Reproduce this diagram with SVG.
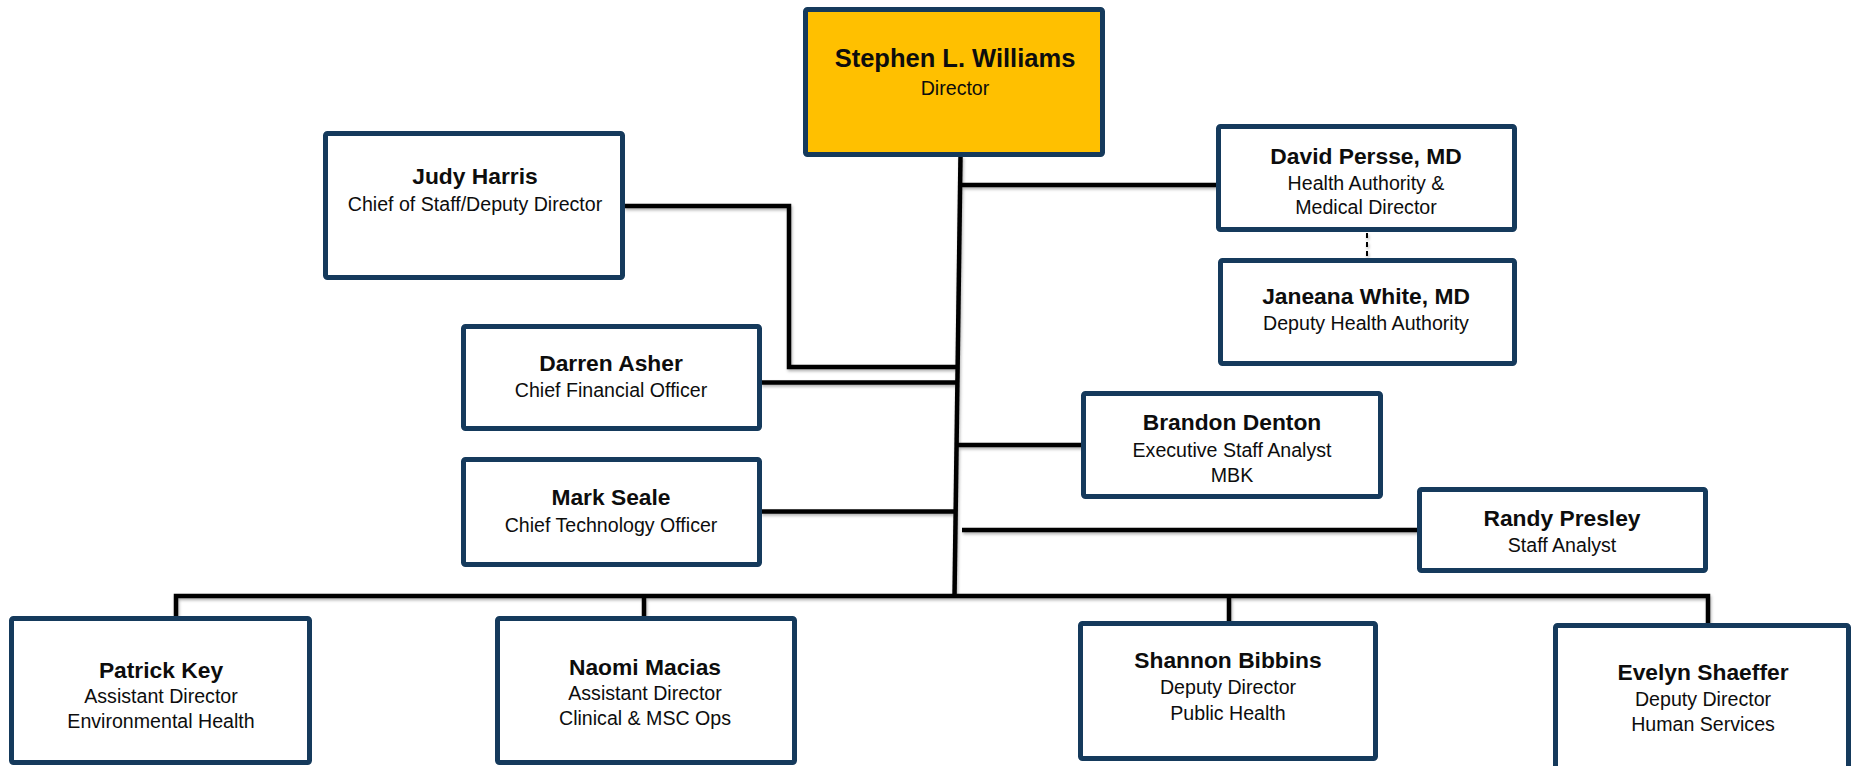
<svg xmlns="http://www.w3.org/2000/svg" width="1851" height="766" viewBox="0 0 1851 766">
<defs>
<style>
.box{fill:#ffffff;stroke:#153a5c;stroke-width:5;}
.top{fill:#ffc000;stroke:#153a5c;stroke-width:5;}
.nm{font-family:"Liberation Sans",Arial,sans-serif;font-weight:bold;font-size:22.8px;fill:#0d0d0d;text-anchor:middle;}
.tt{font-family:"Liberation Sans",Arial,sans-serif;font-size:19.6px;fill:#0d0d0d;text-anchor:middle;}
.ln{fill:none;stroke:#000;stroke-width:4.5;stroke-linejoin:miter;stroke-linecap:butt;}
.dash{fill:none;stroke:#000;stroke-width:2;stroke-dasharray:5,4;}
</style>
<filter id="sh" x="-5%" y="-5%" width="110%" height="130%">
<feDropShadow dx="1" dy="2" stdDeviation="1.5" flood-color="#000" flood-opacity="0.3"/>
</filter>
</defs>
<rect width="1851" height="766" fill="#ffffff"/>
<g id="connectors" filter="url(#sh)">
<path class="ln" d="M960.5,156 L954.5,597"/>
<path class="ln" d="M960,185 H1217"/>
<path class="ln" d="M624,206 H789 V367 H957"/>
<path class="ln" d="M761,382.5 H957"/>
<path class="ln" d="M957,445 H1082"/>
<path class="ln" d="M761,511.5 H955"/>
<path class="ln" d="M962,530 H1418"/>
<path class="ln" d="M176,618 V596 H1708 V624"/>
<path class="ln" d="M644,596 V617"/>
<path class="ln" d="M1229,596 V622"/>
<path class="dash" d="M1367,233 V258"/>
</g>
<g id="stephen">
<rect class="top" x="805.5" y="9.5" width="297" height="145" rx="2"/>
<text class="nm" x="955" y="67" style="font-size:25.5px">Stephen L. Williams</text>
<text class="tt" x="955" y="95">Director</text>
</g>
<g id="judy">
<rect class="box" x="325.5" y="133.5" width="297" height="144" rx="2"/>
<text class="nm" x="475" y="184">Judy Harris</text>
<text class="tt" x="475" y="211">Chief of Staff/Deputy Director</text>
</g>
<g id="david">
<rect class="box" x="1218.5" y="126.5" width="296" height="103" rx="2"/>
<text class="nm" x="1366" y="164">David Persse, MD</text>
<text class="tt" x="1366" y="190">Health Authority &amp;</text>
<text class="tt" x="1366" y="214">Medical Director</text>
</g>
<g id="janeana">
<rect class="box" x="1220.5" y="260.5" width="294" height="103" rx="2"/>
<text class="nm" x="1366" y="304">Janeana White, MD</text>
<text class="tt" x="1366" y="330">Deputy Health Authority</text>
</g>
<g id="darren">
<rect class="box" x="463.5" y="326.5" width="296" height="102" rx="2"/>
<text class="nm" x="611" y="371">Darren Asher</text>
<text class="tt" x="611" y="397">Chief Financial Officer</text>
</g>
<g id="mark">
<rect class="box" x="463.5" y="459.5" width="296" height="105" rx="2"/>
<text class="nm" x="611" y="505">Mark Seale</text>
<text class="tt" x="611" y="532">Chief Technology Officer</text>
</g>
<g id="brandon">
<rect class="box" x="1083.5" y="393.5" width="297" height="103" rx="2"/>
<text class="nm" x="1232" y="430">Brandon Denton</text>
<text class="tt" x="1232" y="457">Executive Staff Analyst</text>
<text class="tt" x="1232" y="482">MBK</text>
</g>
<g id="randy">
<rect class="box" x="1419.5" y="489.5" width="286" height="81" rx="2"/>
<text class="nm" x="1562" y="526">Randy Presley</text>
<text class="tt" x="1562" y="552">Staff Analyst</text>
</g>
<g id="patrick">
<rect class="box" x="11.5" y="618.5" width="298" height="144" rx="2"/>
<text class="nm" x="161" y="678">Patrick Key</text>
<text class="tt" x="161" y="703">Assistant Director</text>
<text class="tt" x="161" y="728">Environmental Health</text>
</g>
<g id="naomi">
<rect class="box" x="497.5" y="618.5" width="297" height="144" rx="2"/>
<text class="nm" x="645" y="675">Naomi Macias</text>
<text class="tt" x="645" y="700">Assistant Director</text>
<text class="tt" x="645" y="725">Clinical &amp; MSC Ops</text>
</g>
<g id="shannon">
<rect class="box" x="1080.5" y="623.5" width="295" height="135" rx="2"/>
<text class="nm" x="1228" y="668">Shannon Bibbins</text>
<text class="tt" x="1228" y="694">Deputy Director</text>
<text class="tt" x="1228" y="720">Public Health</text>
</g>
<g id="evelyn">
<rect class="box" x="1555.5" y="625.5" width="293" height="150" rx="2"/>
<text class="nm" x="1703" y="680">Evelyn Shaeffer</text>
<text class="tt" x="1703" y="706">Deputy Director</text>
<text class="tt" x="1703" y="731">Human Services</text>
</g>
</svg>
